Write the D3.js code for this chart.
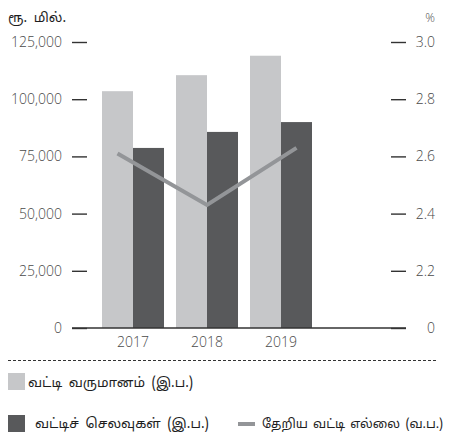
<!DOCTYPE html>
<html>
<head>
<meta charset="utf-8">
<script src="https://cdn.jsdelivr.net/npm/d3@7"></script>
<style>
  html, body { margin: 0; padding: 0; background: #fff; }
  svg { display: block; }
  .num { font-family: "Open Sans", "Noto Sans", sans-serif; font-size: 14px; font-weight: 300; fill: #4a4a4a; }
  .ta { font-family: "Noto Sans Tamil", "Lohit Tamil", "Noto Sans", sans-serif; font-size: 13.5px; fill: #1e1e1e; word-spacing: 3px; }
</style>
</head>
<body>
<svg id="chart" width="453" height="439"></svg>
<script>
// Interest income / expenses (Rs. mn, left axis) and net interest margin (%, right axis)
const years = ["2017", "2018", "2019"];
const interestIncome = [103500, 110500, 119000];
const interestExpenses = [78700, 85700, 90000];
const netInterestMargin = [2.61, 2.43, 2.63];

const leftTicks = [0, 25000, 50000, 75000, 100000, 125000];
const rightTicks = [2.0, 2.2, 2.4, 2.6, 2.8, 3.0];

const seriesNames = ["வட்டி  வருமானம் (இ.ப.)", "வட்டிச்  செலவுகள்  (இ.ப.)", "தேறிய  வட்டி  எல்லை  (வ.ப.)"];
const leftUnit = "ரூ.  மில்.";
const rightUnit = "%";

const colIncome = "#c6c7c9";
const colExpense = "#58595b";
const colMargin = "#939598";

const svg = d3.select("#chart");

const y = d3.scaleLinear().domain([0, 125000]).range([328, 42]);
const yR = d3.scaleLinear().domain([2.0, 3.0]).range([328, 42]);

const x = d3.scaleBand().domain(years).range([102, 312]).paddingInner(0.162).paddingOuter(0);
const bw = x.bandwidth() / 2;

// line points run from the first income bar centre to the last expense bar centre
const xLine = d3.scalePoint().domain(years)
  .range([x(years[0]) + bw / 2, x(years[years.length - 1]) + bw * 1.5]);

// bars
const g = svg.append("g");
g.selectAll("rect.inc").data(years).join("rect")
  .attr("class", "inc")
  .attr("x", d => x(d))
  .attr("width", bw)
  .attr("y", (d, i) => y(interestIncome[i]))
  .attr("height", (d, i) => y(0) - y(interestIncome[i]))
  .attr("fill", colIncome);

g.selectAll("rect.exp").data(years).join("rect")
  .attr("class", "exp")
  .attr("x", d => x(d) + bw)
  .attr("width", bw)
  .attr("y", (d, i) => y(interestExpenses[i]))
  .attr("height", (d, i) => y(0) - y(interestExpenses[i]))
  .attr("fill", colExpense);

// margin line
const line = d3.line().x((d, i) => xLine(years[i])).y(d => yR(d));
svg.append("path")
  .datum(netInterestMargin)
  .attr("d", line)
  .attr("fill", "none")
  .attr("stroke", colMargin)
  .attr("stroke-width", 4);

// baseline
svg.append("line")
  .attr("x1", 72).attr("x2", 406)
  .attr("y1", y(0)).attr("y2", y(0))
  .attr("stroke", "#333").attr("stroke-width", 1.5);

// left axis
const axL = svg.append("g").attr("transform", "translate(87,0)")
  .call(d3.axisLeft(y).tickValues(leftTicks).tickSize(15).tickPadding(10)
    .tickFormat(d3.format(",")));
axL.select(".domain").remove();
axL.selectAll(".tick line").attr("stroke", "#333").attr("stroke-width", 1.4);
axL.selectAll(".tick text").attr("class", "num").attr("font-family", null).attr("font-size", null);

// right axis
const axR = svg.append("g").attr("transform", "translate(391,0)")
  .call(d3.axisRight(y.copy().domain(yR.domain())).tickValues(rightTicks).tickSize(15)
    .tickFormat(d => d === 2.0 ? "0" : d3.format(".1f")(d)));
axR.select(".domain").remove();
axR.selectAll(".tick line").attr("stroke", "#333").attr("stroke-width", 1.4);
axR.selectAll(".tick text").attr("class", "num").attr("font-family", null).attr("font-size", null)
  .attr("text-anchor", "end").attr("x", 44);

// year labels
svg.append("g").selectAll("text").data(years).join("text")
  .attr("class", "num")
  .attr("x", d => x(d) + bw)
  .attr("y", 347)
  .attr("text-anchor", "middle")
  .text(d => d);

// units
svg.append("text").attr("class", "ta").attr("x", 8).attr("y", 22).style("font-size", "13.5px").text(leftUnit);
svg.append("text").attr("class", "num").attr("x", 435).attr("y", 22).attr("text-anchor", "end")
  .style("font-size", "12px").text(rightUnit);

// legend
svg.append("line")
  .attr("x1", 8).attr("x2", 437).attr("y1", 360.5).attr("y2", 360.5)
  .attr("stroke", "#333").attr("stroke-width", 1).attr("stroke-dasharray", "3,2");

svg.append("rect").attr("x", 8).attr("y", 373).attr("width", 17).attr("height", 17).attr("fill", colIncome);
svg.append("text").attr("class", "ta").attr("x", 28).attr("y", 387).text(seriesNames[0]);

svg.append("rect").attr("x", 8).attr("y", 415).attr("width", 17).attr("height", 17).attr("fill", colExpense);
svg.append("text").attr("class", "ta").attr("x", 35).attr("y", 428).text(seriesNames[1]);

svg.append("line").attr("x1", 238).attr("x2", 255).attr("y1", 424).attr("y2", 424)
  .attr("stroke", colMargin).attr("stroke-width", 4);
svg.append("text").attr("class", "ta").attr("x", 262).attr("y", 428)
  .style("font-size", "12.6px").style("word-spacing", "2px").text(seriesNames[2]);
</script>
</body>
</html>
